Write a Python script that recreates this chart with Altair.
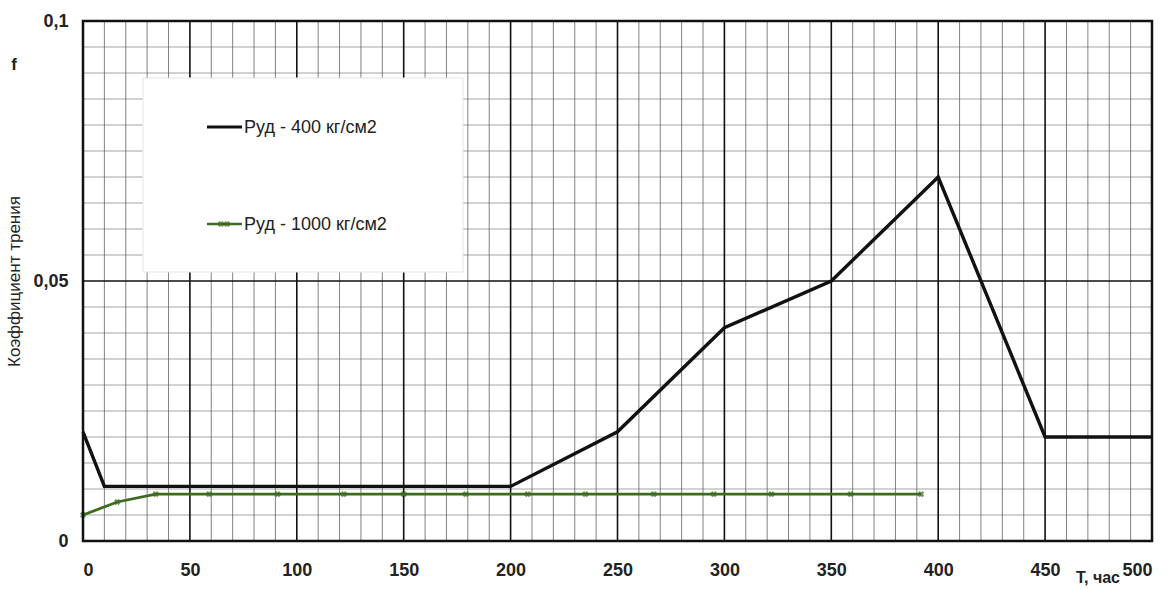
import altair as alt
import pandas as pd

# Friction coefficient vs. time for two specific pressures
t_400 = [0, 10, 200, 250, 300, 350, 400, 450, 500]
f_400 = [0.021, 0.0105, 0.0105, 0.021, 0.041, 0.050, 0.070, 0.020, 0.020]

t_1000 = [0, 16, 34, 59, 91, 122, 150, 179, 208, 235, 267, 295, 322, 359, 392]
f_1000 = [0.005, 0.0075, 0.009, 0.009, 0.009, 0.009, 0.009, 0.009, 0.009,
          0.009, 0.009, 0.009, 0.009, 0.009, 0.009]

label_400 = "Руд - 400 кг/см2"
label_1000 = "Руд - 1000 кг/см2"

x_ticks = [0, 50, 100, 150, 200, 250, 300, 350, 400, 450, 500]
y_ticks = [0, 0.05, 0.1]

W, H = 1069, 520
FONT = "Liberation Sans"
INK = "#222"
GREEN = "#3c6a1e"

xs = alt.Scale(domain=[0, 500], nice=False, zero=False)
ys = alt.Scale(domain=[0, 0.1], nice=False)

minor_x = [v for v in range(10, 500, 10) if v % 50 != 0]
major_x = [v for v in range(50, 500, 50)]
minor_y = [round(i * 0.005, 3) for i in range(1, 20) if i != 10]
major_y = [0.05]

grid_minor_v = alt.Chart(pd.DataFrame({"x": minor_x})).mark_rule(
    color="#444", strokeWidth=0.9, opacity=0.75
).encode(x=alt.X("x:Q", scale=xs))
grid_minor_h = alt.Chart(pd.DataFrame({"y": minor_y})).mark_rule(
    color="#555", strokeWidth=0.9, opacity=0.6
).encode(y=alt.Y("y:Q", scale=ys))
grid_major_v = alt.Chart(pd.DataFrame({"x": major_x})).mark_rule(
    color="#111", strokeWidth=1.6
).encode(x=alt.X("x:Q", scale=xs))
grid_major_h = alt.Chart(pd.DataFrame({"y": major_y})).mark_rule(
    color="#111", strokeWidth=1.6
).encode(y=alt.Y("y:Q", scale=ys))

# Legend box and entries (drawn inside the plot area)
legend_box = alt.Chart(pd.DataFrame({"a": [0]})).mark_rect(
    fill="white", stroke="#e6e6e6", strokeWidth=1
).encode(x=alt.value(143 - 83), x2=alt.value(463 - 83),
         y=alt.value(78 - 21), y2=alt.value(272 - 21))

leg_line1 = alt.Chart(pd.DataFrame({"a": [0]})).mark_rule(
    color="#111", strokeWidth=3.2
).encode(x=alt.value(207 - 83), x2=alt.value(242 - 83), y=alt.value(127 - 21))
leg_line2 = alt.Chart(pd.DataFrame({"a": [0]})).mark_rule(
    color=GREEN, strokeWidth=2.6
).encode(x=alt.value(207 - 83), x2=alt.value(242 - 83), y=alt.value(224 - 21))
leg_pt2 = alt.Chart(pd.DataFrame({"px": [221 - 83, 227 - 83]})).mark_point(
    shape="cross", angle=45, size=40, color=GREEN, filled=True
).encode(x=alt.X("px:Q", scale=None), y=alt.value(224 - 21))
leg_text = alt.Chart(pd.DataFrame({
    "label": [label_400, label_1000],
    "py": [128 - 21, 225 - 21],
})).mark_text(align="left", baseline="middle", font=FONT, fontSize=18,
              color=INK).encode(
    x=alt.value(244 - 83), y=alt.Y("py:Q", scale=None), text="label:N")

df400 = pd.DataFrame({"t": t_400, "f": f_400})
df1000 = pd.DataFrame({"t": t_1000, "f": f_1000})

axis_x = alt.Axis(values=x_ticks, grid=False, domain=False, ticks=False,
                  labelFont=FONT, labelFontSize=18, labelFontWeight="bold",
                  labelColor=INK, labelPadding=20, title=None)
axis_y = alt.Axis(values=y_ticks, grid=False, domain=False, ticks=False,
                  labelFont=FONT, labelFontSize=18, labelFontWeight="bold",
                  labelColor=INK, labelPadding=15,
                  labelExpr="datum.value == 0 ? '0' : replace(toString(datum.value), '.', ',')",
                  title="Коэффициент трения", titleFont=FONT, titleFontSize=17,
                  titleFontWeight="normal", titleColor=INK, titleX=-60, titleY=H / 2)

line400 = alt.Chart(df400).mark_line(color="#111", strokeWidth=3.4).encode(
    x=alt.X("t:Q", scale=xs, axis=axis_x),
    y=alt.Y("f:Q", scale=ys, axis=axis_y),
)
line1000 = alt.Chart(df1000).mark_line(color=GREEN, strokeWidth=2.8).encode(
    x=alt.X("t:Q", scale=xs), y=alt.Y("f:Q", scale=ys))
pts1000 = alt.Chart(df1000).mark_point(
    shape="cross", angle=45, size=40, color=GREEN, filled=True
).encode(x=alt.X("t:Q", scale=xs), y=alt.Y("f:Q", scale=ys))

border = alt.Chart(pd.DataFrame({"a": [0]})).mark_rect(
    fill=None, stroke="#111", strokeWidth=2.5
).encode(x=alt.value(0), x2=alt.value(W), y=alt.value(0), y2=alt.value(H))

extra_text = alt.Chart(pd.DataFrame({
    "label": ["f", "T, час"],
    "px": [14 - 83, 1098 - 83],
    "py": [65 - 21, 578 - 21],
    "fs": [17, 16],
})).mark_text(font=FONT, fontWeight="bold", color=INK,
              align="center", baseline="middle").encode(
    x=alt.X("px:Q", scale=None), y=alt.Y("py:Q", scale=None), text="label:N",
    size=alt.Size("fs:Q", scale=None, legend=None))

chart = alt.layer(
    grid_minor_v, grid_minor_h, grid_major_v, grid_major_h,
    legend_box, leg_line1, leg_line2, leg_pt2, leg_text,
    line400, line1000, pts1000, border, extra_text,
).properties(
    width=W, height=H,
    padding={"left": 83, "top": 21, "right": 20, "bottom": 48},
    autosize=alt.AutoSizeParams(type="none"),
    background="white",
).configure_view(stroke=None)

chart.save("out.html", embed_options={"renderer": "svg", "actions": False})
